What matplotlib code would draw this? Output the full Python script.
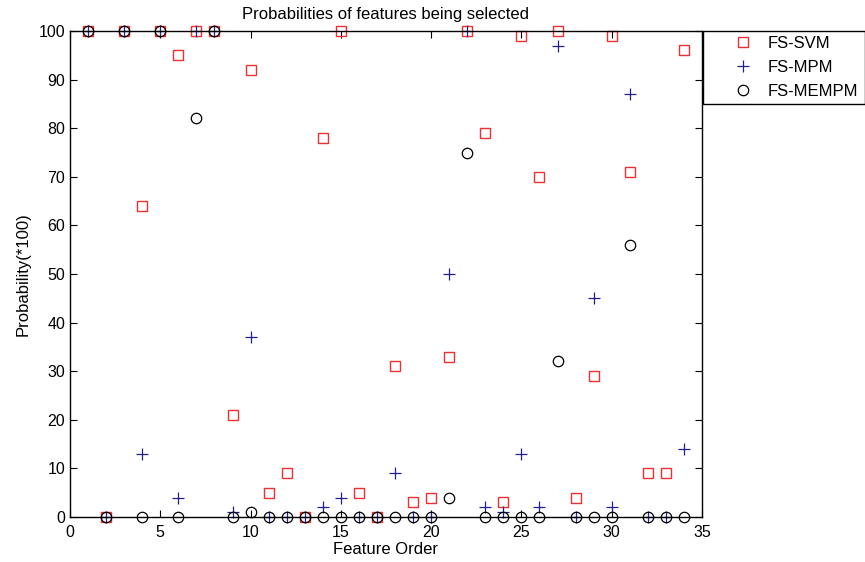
import numpy as np
import matplotlib
matplotlib.use('Agg')
import matplotlib.pyplot as plt

plt.rcParams['font.family'] = ['Liberation Sans', 'DejaVu Sans']

# Feature order 1..34
features = list(range(1, 35))

# FS-SVM probabilities (*100)
svm = [100, 0, 100, 64, 100, 95, 100, 100, 21, 92,
       5, 9, 0, 78, 100, 5, 0, 31, 3, 4,
       33, 100, 79, 3, 99, 70, 100, 4, 29, 99,
       71, 9, 9, 96]

# FS-MPM probabilities (*100)
mpm = [100, 0, 100, 13, 100, 4, 100, 100, 1, 37,
       0, 0, 0, 2, 4, 0, 0, 9, 0, 0,
       50, 100, 2, 1, 13, 2, 97, 0, 45, 2,
       87, 0, 0, 14]

# FS-MEMPM probabilities (*100)
mempm = [100, 0, 100, 0, 100, 0, 82, 100, 0, 1,
         0, 0, 0, 0, 0, 0, 0, 0, 0, 0,
         4, 75, 0, 0, 0, 0, 32, 0, 0, 0,
         56, 0, 0, 0]

fig = plt.figure(figsize=(8.65, 5.62), dpi=100)
ax = fig.add_axes([70/865, 1-517/562, (702-70)/865, (517-31)/562])

ax.plot(features, svm, 's', color='#f03030', mfc='none', ms=6.5, mew=1.0,
        label='FS-SVM', clip_on=False)
ax.plot(features, mpm, '+', color='#202090', ms=8, mew=0.9,
        label='FS-MPM', clip_on=False)
ax.plot(features, mempm, 'o', color='black', mfc='none', ms=7.5, mew=0.9,
        label='FS-MEMPM', clip_on=False)

ax.set_xlim(0, 35)
ax.set_ylim(0, 100)
ax.set_xticks(range(0, 36, 5))
ax.set_yticks(range(0, 101, 10))
ax.tick_params(direction='in', top=True, right=True, length=5, width=0.8,
               labelsize=11.5)
ax.tick_params(axis='x', pad=6)
for s in ax.spines.values():
    s.set_linewidth(1.0)

ax.set_title('Probabilities of features being selected', fontsize=12, pad=9)
ax.set_xlabel('Feature Order', fontsize=12, labelpad=1)
ax.set_ylabel('Probability(*100)', fontsize=12, labelpad=6)

leg = ax.legend(loc='upper left',
                bbox_to_anchor=(703/865, 1-104/562, 162/865, 73/562),
                bbox_transform=fig.transFigure, mode='expand',
                borderaxespad=0, fancybox=False, edgecolor='black',
                framealpha=1, fontsize=12, handlelength=4.2,
                handletextpad=-0.6, labelspacing=0.55, borderpad=0.3)
leg.get_frame().set_linewidth(1.0)

fig.savefig('out.png', dpi=100)
